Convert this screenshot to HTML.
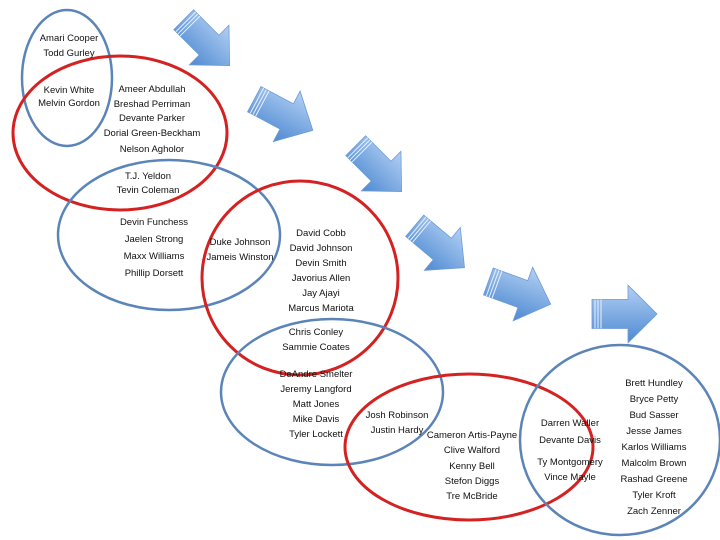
<!DOCTYPE html>
<html><head><meta charset="utf-8"><style>
html,body{margin:0;padding:0;background:#fff;}
svg{display:block;}
text{font-family:"Liberation Sans",sans-serif;font-size:9.5px;fill:#111;text-anchor:middle;}
</style></head><body>
<svg width="720" height="540" viewBox="0 0 720 540" xmlns="http://www.w3.org/2000/svg">
<defs>
<linearGradient id="g" x1="0" y1="0" x2="0" y2="1">
<stop offset="0" stop-color="#b3d0f3"/><stop offset="1" stop-color="#4d89d2"/>
</linearGradient>
<g id="arr">
<path d="M-33,-14 L3,-14 L3,-28 L32,0 L3,28 L3,14 L-33,14 Z" fill="url(#g)" stroke="#6e9bd6" stroke-width="0.8"/>
<path d="M-30,-14 L-30,14 M-27,-14 L-27,14 M-24,-14 L-24,14" stroke="#e8f0fb" stroke-width="1"/>
</g>
</defs>
<use href="#arr" transform="translate(207,43) rotate(45) scale(1.0)"/>
<use href="#arr" transform="translate(284,115) rotate(28) scale(1.02)"/>
<use href="#arr" transform="translate(379,169) rotate(45) scale(1.0)"/>
<use href="#arr" transform="translate(440,247) rotate(40) scale(1.0)"/>
<use href="#arr" transform="translate(520,293) rotate(20) scale(1.02)"/>
<use href="#arr" transform="translate(625,314) scale(1.0,1.03)"/>

<g fill="none" stroke-width="3">
<ellipse cx="67" cy="78" rx="45" ry="68" stroke="#5b84b8" stroke-width="2.5"/>
<ellipse cx="120" cy="133" rx="107" ry="77" stroke="#d42222"/>
<ellipse cx="169" cy="235" rx="111" ry="75" stroke="#5b84b8" stroke-width="2.5"/>
<ellipse cx="300" cy="278" rx="98" ry="97" stroke="#d42222"/>
<ellipse cx="332" cy="392" rx="111" ry="73" stroke="#5b84b8" stroke-width="2.5"/>
<ellipse cx="469" cy="447" rx="124" ry="73" stroke="#d42222"/>
<ellipse cx="620" cy="440" rx="100" ry="95" stroke="#5b84b8" stroke-width="2.5"/>
</g>

<text x="69" y="41">Amari Cooper</text>
<text x="69" y="56">Todd Gurley</text>
<text x="69" y="93">Kevin White</text>
<text x="69" y="106">Melvin Gordon</text>
<text x="152" y="92">Ameer Abdullah</text>
<text x="152" y="107">Breshad Perriman</text>
<text x="152" y="121">Devante Parker</text>
<text x="152" y="136">Dorial Green-Beckham</text>
<text x="152" y="152">Nelson Agholor</text>
<text x="148" y="179">T.J. Yeldon</text>
<text x="148" y="193">Tevin Coleman</text>
<text x="154" y="225">Devin Funchess</text>
<text x="154" y="242">Jaelen Strong</text>
<text x="154" y="259">Maxx Williams</text>
<text x="154" y="276">Phillip Dorsett</text>
<text x="240" y="245">Duke Johnson</text>
<text x="240" y="260">Jameis Winston</text>
<text x="321" y="236">David Cobb</text>
<text x="321" y="251">David Johnson</text>
<text x="321" y="266">Devin Smith</text>
<text x="321" y="281">Javorius Allen</text>
<text x="321" y="296">Jay Ajayi</text>
<text x="321" y="311">Marcus Mariota</text>
<text x="316" y="335">Chris Conley</text>
<text x="316" y="350">Sammie Coates</text>
<text x="316" y="377">DeAndre Smelter</text>
<text x="316" y="392">Jeremy Langford</text>
<text x="316" y="407">Matt Jones</text>
<text x="316" y="422">Mike Davis</text>
<text x="316" y="437">Tyler Lockett</text>
<text x="397" y="418">Josh Robinson</text>
<text x="397" y="433">Justin Hardy</text>
<text x="472" y="438">Cameron Artis-Payne</text>
<text x="472" y="453">Clive Walford</text>
<text x="472" y="469">Kenny Bell</text>
<text x="472" y="484">Stefon Diggs</text>
<text x="472" y="499">Tre McBride</text>
<text x="570" y="426">Darren Waller</text>
<text x="570" y="443">Devante Davis</text>
<text x="570" y="465">Ty Montgomery</text>
<text x="570" y="480">Vince Mayle</text>
<text x="654" y="386">Brett Hundley</text>
<text x="654" y="402">Bryce Petty</text>
<text x="654" y="418">Bud Sasser</text>
<text x="654" y="434">Jesse James</text>
<text x="654" y="450">Karlos Williams</text>
<text x="654" y="466">Malcolm Brown</text>
<text x="654" y="482">Rashad Greene</text>
<text x="654" y="498">Tyler Kroft</text>
<text x="654" y="514">Zach Zenner</text>
</svg>
</body></html>
